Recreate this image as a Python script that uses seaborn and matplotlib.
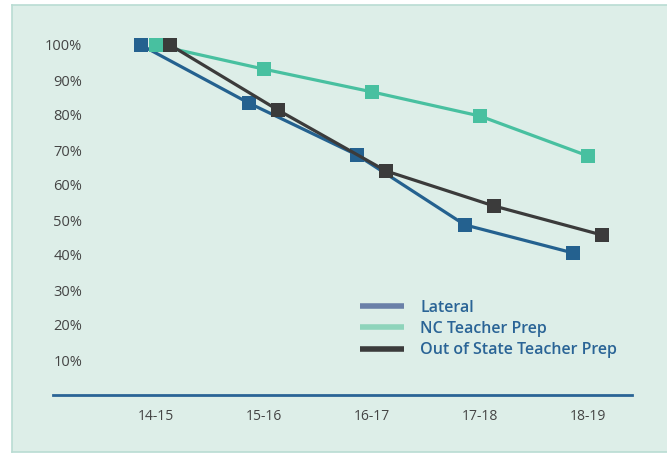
import pandas as pd
import numpy as np
import matplotlib.pyplot as plt
import seaborn as sns
from matplotlib.lines import Line2D

# ============================================================
# DATA
# ============================================================
years = ['14-15', '15-16', '16-17', '17-18', '18-19']
lateral = [1.00, 0.834, 0.686, 0.486, 0.406]
nc_prep = [1.00, 0.931, 0.866, 0.797, 0.683]
out_of_state = [1.00, 0.814, 0.640, 0.540, 0.457]
series_names = ['Lateral', 'NC Teacher Prep', 'Out of State Teacher Prep']
y_ticks = [0.1, 0.2, 0.3, 0.4, 0.5, 0.6, 0.7, 0.8, 0.9, 1.0]

# ============================================================
# STYLE
# ============================================================
bg = '#ddeee8'
line_colors = ['#24618f', '#48c0a0', '#3b3b3b']
legend_colors = ['#6a80a8', '#8ed4bb', '#3b3b3b']
dodge = [-0.14, 0.0, 0.13]

sns.set_style('white')
plt.rcParams['font.family'] = ['Open Sans', 'DejaVu Sans']

rows = []
for s, vals, off in zip(series_names, [lateral, nc_prep, out_of_state], dodge):
    for i, v in enumerate(vals):
        rows.append({'series': s, 'x': i + off, 'value': v})
df = pd.DataFrame(rows)

fig = plt.figure(figsize=(6.67, 4.55), dpi=100)
fig.patch.set_facecolor('white')

# light green panel behind everything
bg_ax = fig.add_axes([12 / 667, 3 / 455, 655 / 667, 447 / 455], zorder=-5)
bg_ax.set_facecolor(bg)
bg_ax.set_xticks([])
bg_ax.set_yticks([])
for sp in bg_ax.spines.values():
    sp.set_color('#b9dcd3')
    sp.set_linewidth(1.2)
bg_ax.spines['right'].set_visible(False)

ax = fig.add_axes([53 / 667, 60 / 455, (632 - 53) / 667, 385 / 455])
ax.set_facecolor('none')

sns.lineplot(data=df, x='x', y='value', hue='series', palette=line_colors,
             hue_order=series_names, marker='s', markersize=10, markeredgewidth=0,
             linewidth=2.3, legend=False, ax=ax)

ax.set_xlim(-0.954, 4.407)
ax.set_ylim(0, 1.1)
ax.set_xticks(range(len(years)))
ax.set_xticklabels(years)
ax.set_yticks(y_ticks)
ax.set_yticklabels([f'{int(round(t * 100))}%' for t in y_ticks])
ax.tick_params(axis='y', length=0, pad=-21, labelsize=10.5, colors='#444444')
ax.tick_params(axis='x', length=0, pad=10, labelsize=10, colors='#444444')
for lab in ax.get_yticklabels():
    lab.set_horizontalalignment('right')
ax.set_xlabel('')
ax.set_ylabel('')
for side in ['top', 'right', 'left']:
    ax.spines[side].set_visible(False)
ax.spines['bottom'].set_color('#2a6496')
ax.spines['bottom'].set_linewidth(2)

handles = [Line2D([0], [0], color=c, linewidth=4, solid_capstyle='butt') for c in legend_colors]
leg = ax.legend(handles, series_names, loc='upper left', bbox_to_anchor=(0.505, 0.285),
                frameon=False, handlelength=2.75, handletextpad=1.05, labelspacing=0.33,
                prop={'size': 11.5, 'family': ['Open Sans', 'DejaVu Sans'], 'weight': 'semibold'})
for t in leg.get_texts():
    t.set_color('#2a6496')

fig.savefig('out.png', dpi=100, facecolor='white')
